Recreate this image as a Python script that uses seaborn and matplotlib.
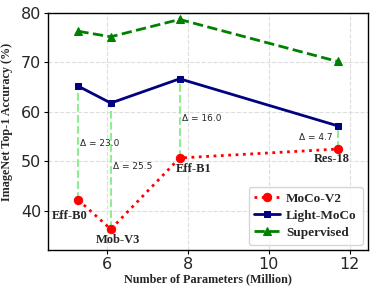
import matplotlib
matplotlib.use("Agg")
import matplotlib.pyplot as plt
import seaborn as sns
import pandas as pd

models = ["Eff-B0", "Mob-V3", "Eff-B1", "Res-18"]
params = [5.3, 6.1, 7.8, 11.7]
moco_v2 = [42.2, 36.3, 50.7, 52.5]
light_moco = [65.2, 61.8, 66.7, 57.2]
supervised = [76.3, 75.2, 78.7, 70.2]
deltas = ["23.0", "25.5", "16.0", "4.7"]

sns.set_style("whitegrid", {"grid.linestyle": "--", "grid.color": "#dddddd",
                            "axes.edgecolor": "black"})
serif = ["Liberation Serif", "DejaVu Serif"]

fig = plt.figure(figsize=(3.74, 2.94), dpi=100)
ax = fig.add_axes([48 / 374, 1 - 250 / 294, 320 / 374, 237 / 294])

df = pd.DataFrame({"params": params, "moco": moco_v2, "light": light_moco, "sup": supervised})

# vertical delta lines
for x, a, b in zip(params, moco_v2, light_moco):
    ax.plot([x, x], [a, b], color="#90ee90", linestyle="--", linewidth=1.5, zorder=1)

sns.lineplot(data=df, x="params", y="moco", ax=ax, color="red", linestyle=":",
             linewidth=2, marker="o", markersize=6, markeredgecolor="red",
             label="MoCo-V2", zorder=3)
sns.lineplot(data=df, x="params", y="light", ax=ax, color="navy", linestyle="-",
             linewidth=2, marker="s", markersize=5, markeredgecolor="navy",
             label="Light-MoCo", zorder=3)
sns.lineplot(data=df, x="params", y="sup", ax=ax, color="green", linestyle="--",
             linewidth=2, marker="^", markersize=6, markeredgecolor="green",
             label="Supervised", zorder=3)

# delta labels
for i, (x, a, b, d) in enumerate(zip(params, moco_v2, light_moco, deltas)):
    mid = (a + b) / 2
    if i == 3:
        ax.text(x - 0.12, mid, "Δ = " + d, ha="right", va="center", fontsize=6.5)
    else:
        ax.text(x + 0.05, mid, "Δ = " + d, ha="left", va="center", fontsize=6.5)

# model name labels
offsets = [(-6, -11.5), (5, -8), (10, -8), (-4.5, -7)]
for x, y, name, off in zip(params, moco_v2, models, offsets):
    ax.annotate(name, (x, y), xytext=off, textcoords="offset points",
                ha="center", va="center", fontsize=9, fontweight="bold",
                family=serif)

ax.set_xlim(4.55, 12.45)
ax.set_ylim(32.1, 80)
ax.set_xticks([6, 8, 10, 12])
ax.set_yticks([40, 50, 60, 70, 80])
ax.tick_params(labelsize=11.5, length=3, width=0.8, color="black", pad=2,
               left=True, bottom=True)
ax.set_xlabel("Number of Parameters (Million)", fontsize=8.7, fontweight="bold",
              family=serif, labelpad=1)
ax.set_ylabel("ImageNet Top-1 Accuracy (%)", fontsize=8.7, fontweight="bold",
              family=serif)
ax.yaxis.set_label_coords(-0.11, 0.54)
for s in ax.spines.values():
    s.set_color("black")
    s.set_linewidth(1.0)

ax.legend(loc="lower right", prop={"family": serif, "weight": "bold", "size": 9.5},
          frameon=True, edgecolor="#cccccc", handlelength=1.9, handletextpad=0.5,
          borderpad=0.45, labelspacing=0.35, borderaxespad=0.4)

fig.savefig("out.png", dpi=100)
